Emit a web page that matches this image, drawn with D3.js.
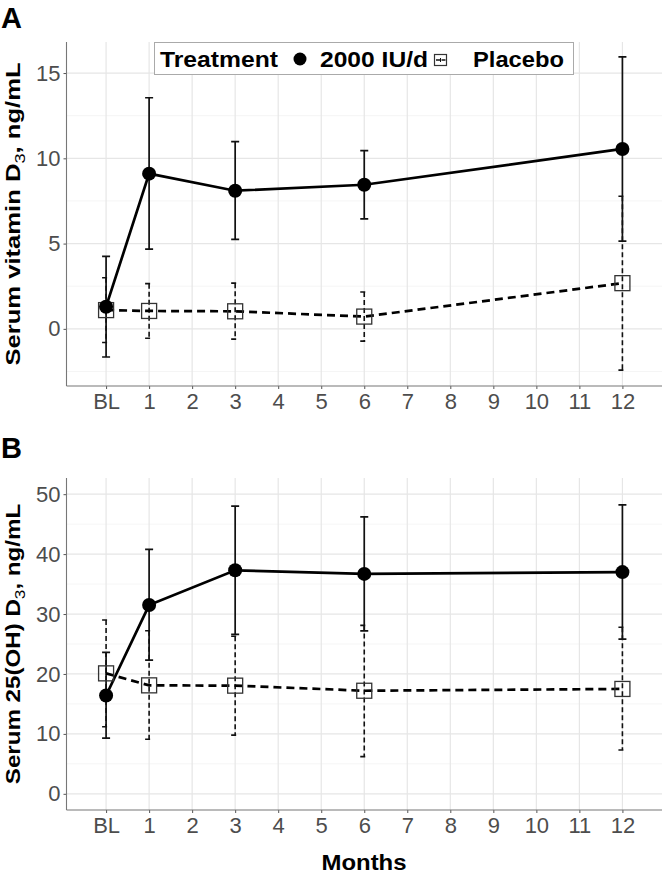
<!DOCTYPE html>
<html><head><meta charset="utf-8">
<script src="https://cdn.jsdelivr.net/npm/d3@7"></script>
<style>body{margin:0;background:#fff} svg{display:block}</style>
</head><body>
<svg id="chart" width="663" height="875"></svg>
<script>
// ---------- data ----------
const months = [0, 1, 3, 6, 12];
const xTicks = [0, 1, 2, 3, 4, 5, 6, 7, 8, 9, 10, 11, 12];
const xTickLabels = ["BL", "1", "2", "3", "4", "5", "6", "7", "8", "9", "10", "11", "12"];
const groups = ["2000 IU/d", "Placebo"];

// Panel A: serum vitamin D3, ng/mL
const aTrtMean = [1.3, 9.1, 8.1, 8.45, 10.55];
const aTrtLow  = [-1.65, 4.68, 5.25, 6.45, 5.15];
const aTrtHigh = [4.25, 13.55, 10.98, 10.45, 15.95];
const aPlaMean = [1.1, 1.05, 1.03, 0.72, 2.68];
const aPlaLow  = [-0.8, -0.55, -0.6, -0.72, -2.42];
const aPlaHigh = [3.0, 2.65, 2.68, 2.16, 7.78];
const aYTicks = [0, 5, 10, 15];
const aYMinor = [-2.5, 2.5, 7.5, 12.5];

// Panel B: serum 25(OH)D3, ng/mL
const bTrtMean = [16.4, 31.5, 37.3, 36.7, 37.0];
const bTrtLow  = [9.3, 22.3, 26.6, 27.2, 25.8];
const bTrtHigh = [23.6, 40.8, 48.0, 46.2, 48.2];
const bPlaMean = [20.1, 18.1, 18.05, 17.2, 17.5];
const bPlaLow  = [11.2, 9.1, 9.8, 6.2, 7.3];
const bPlaHigh = [29.0, 27.2, 26.3, 28.1, 27.8];
const bYTicks = [0, 10, 20, 30, 40, 50];
const bYMinor = [5, 15, 25, 35, 45];

// ---------- drawing ----------
const FONT = "'Liberation Sans', Arial, Helvetica, sans-serif";
const svg = d3.select("#chart").style("font-family", FONT);

const x = d3.scaleLinear().domain([-0.92, 12.92]).range([66.5, 662]);

function series(mean, lo, hi) {
  return months.map((m, i) => ({ m, v: mean[i], lo: lo[i], hi: hi[i] }));
}

function drawPanel(cfg) {
  const y = d3.scaleLinear().domain(cfg.yDomain).range([cfg.bottom, cfg.top]);
  const g = svg.append("g");
  const [x0, x1] = x.range();

  // minor grid
  g.selectAll(".ymin").data(cfg.yMinor).join("line")
    .attr("x1", x0).attr("x2", x1)
    .attr("y1", d => y(d)).attr("y2", d => y(d))
    .attr("stroke", "#f2f2f2").attr("stroke-width", 0.8);
  // major grid
  g.selectAll(".ymaj").data(cfg.yTicks).join("line")
    .attr("x1", x0).attr("x2", x1)
    .attr("y1", d => y(d)).attr("y2", d => y(d))
    .attr("stroke", "#e6e6e6").attr("stroke-width", 1.2);
  g.selectAll(".xmaj").data(xTicks).join("line")
    .attr("x1", d => x(d)).attr("x2", d => x(d))
    .attr("y1", cfg.top).attr("y2", cfg.bottom)
    .attr("stroke", "#e6e6e6").attr("stroke-width", 1.2);

  // axes
  const yAxis = d3.axisLeft(y).tickValues(cfg.yTicks).tickSize(3).tickPadding(3).tickFormat(d3.format("d"));
  const ya = g.append("g").attr("transform", `translate(${x0},0)`).call(yAxis);
  ya.select(".domain").remove();
  ya.selectAll(".tick line").attr("stroke", "#555");
  ya.selectAll(".tick text").attr("fill", "#4d4d4d").style("font-size", "22px").style("font-family", FONT);

  const xAxis = d3.axisBottom(x).tickValues(xTicks).tickSize(3).tickPadding(4)
    .tickFormat((d, i) => xTickLabels[i]);
  const xa = g.append("g").attr("transform", `translate(0,${cfg.bottom})`).call(xAxis);
  xa.select(".domain").remove();
  xa.selectAll(".tick line").attr("stroke", "#555");
  xa.selectAll(".tick text").attr("fill", "#4d4d4d").style("font-size", "22px").style("font-family", FONT);

  g.append("line").attr("x1", x0).attr("x2", x0).attr("y1", cfg.top).attr("y2", cfg.bottom)
    .attr("stroke", "#777").attr("stroke-width", 1.1);
  g.append("line").attr("x1", x0).attr("x2", x1).attr("y1", cfg.bottom).attr("y2", cfg.bottom)
    .attr("stroke", "#777").attr("stroke-width", 1.1);

  const pla = series(cfg.pla[0], cfg.pla[1], cfg.pla[2]);
  const trt = series(cfg.trt[0], cfg.trt[1], cfg.trt[2]);
  const line = d3.line().x(d => x(d.m)).y(d => y(d.v));
  const ebar = d => {
    const cx = x(d.m), h = y(d.hi), l = y(d.lo);
    return `M${cx - 4},${h}H${cx + 4}M${cx},${h}V${l}M${cx - 4},${l}H${cx + 4}`;
  };

  // error bars
  g.selectAll(".epla").data(pla).join("path").attr("d", ebar)
    .attr("fill", "none").attr("stroke", "#111").attr("stroke-width", 1.6)
    .attr("stroke-dasharray", "5,3");
  g.selectAll(".etrt").data(trt).join("path").attr("d", ebar)
    .attr("fill", "none").attr("stroke", "#111").attr("stroke-width", 1.7);

  // lines
  g.append("path").datum(pla).attr("d", line).attr("fill", "none")
    .attr("stroke", "#000").attr("stroke-width", 2.7).attr("stroke-dasharray", "8,5");
  g.append("path").datum(trt).attr("d", line).attr("fill", "none")
    .attr("stroke", "#000").attr("stroke-width", 2.7);

  // points
  g.selectAll(".ppla").data(pla).join("rect")
    .attr("x", d => x(d.m) - 7.5).attr("y", d => y(d.v) - 7.5)
    .attr("width", 15).attr("height", 15)
    .attr("fill", "none").attr("stroke", "#333").attr("stroke-width", 1.3);
  g.selectAll(".ptrt").data(trt).join("circle")
    .attr("cx", d => x(d.m)).attr("cy", d => y(d.v)).attr("r", 7)
    .attr("fill", "#000");

  // panel letter
  svg.append("text").attr("x", 1).attr("y", cfg.letterY).text(cfg.letter)
    .style("font-size", "29px").style("font-weight", "bold").attr("fill", "#000");

  // y title (rotated, stretched along its length)
  const cy = (cfg.top + cfg.bottom) / 2;
  const t = svg.append("text")
    .attr("transform", `translate(20,${cy}) rotate(-90) scale(${cfg.titleStretch},1)`)
    .attr("text-anchor", "middle")
    .style("font-size", "21px").style("font-weight", "bold").attr("fill", "#000");
  t.append("tspan").text(cfg.titleA);
  t.append("tspan").text("3").attr("dy", 5).style("font-size", "15px").style("font-weight", "normal");
  t.append("tspan").text(", ng/mL").attr("dy", -5);
}

drawPanel({
  top: 42, bottom: 386, yDomain: [-3.35, 16.82],
  yTicks: aYTicks, yMinor: aYMinor,
  trt: [aTrtMean, aTrtLow, aTrtHigh], pla: [aPlaMean, aPlaLow, aPlaHigh],
  letter: "A", letterY: 28, titleA: "Serum vitamin D", titleStretch: 1.22
});
drawPanel({
  top: 478, bottom: 810, yDomain: [-2.7, 52.7],
  yTicks: bYTicks, yMinor: bYMinor,
  trt: [bTrtMean, bTrtLow, bTrtHigh], pla: [bPlaMean, bPlaLow, bPlaHigh],
  letter: "B", letterY: 458, titleA: "Serum 25(OH) D", titleStretch: 1.15
});

// x title
svg.append("text").attr("x", 364).attr("y", 870).attr("text-anchor", "middle")
  .attr("textLength", 85).attr("lengthAdjust", "spacingAndGlyphs")
  .style("font-size", "22px").style("font-weight", "bold").text("Months");

// legend
const lg = svg.append("g");
lg.append("rect").attr("x", 154.5).attr("y", 42.5).attr("width", 419).attr("height", 32)
  .attr("fill", "#fff").attr("stroke", "#aaa").attr("stroke-width", 1);
lg.append("text").attr("x", 160).attr("y", 67).attr("textLength", 118).attr("lengthAdjust", "spacingAndGlyphs")
  .style("font-size", "22px").style("font-weight", "bold").text("Treatment");
lg.append("circle").attr("cx", 300).attr("cy", 59).attr("r", 6.5).attr("fill", "#000");
lg.append("text").attr("x", 320).attr("y", 67).attr("textLength", 108).attr("lengthAdjust", "spacingAndGlyphs")
  .style("font-size", "22px").style("font-weight", "bold").text(groups[0]);
lg.append("rect").attr("x", 434.5).attr("y", 54.5).attr("width", 12).attr("height", 11)
  .attr("fill", "none").attr("stroke", "#333").attr("stroke-width", 1.2);
lg.append("line").attr("x1", 436).attr("x2", 445.5).attr("y1", 60).attr("y2", 60)
  .attr("stroke", "#111").attr("stroke-width", 1.4).attr("stroke-dasharray", "4,1.5");
lg.append("line").attr("x1", 440.5).attr("x2", 440.5).attr("y1", 58).attr("y2", 62)
  .attr("stroke", "#111").attr("stroke-width", 1);
lg.append("text").attr("x", 473).attr("y", 67).attr("textLength", 91).attr("lengthAdjust", "spacingAndGlyphs")
  .style("font-size", "22px").style("font-weight", "bold").text(groups[1]);
</script>
</body></html>
